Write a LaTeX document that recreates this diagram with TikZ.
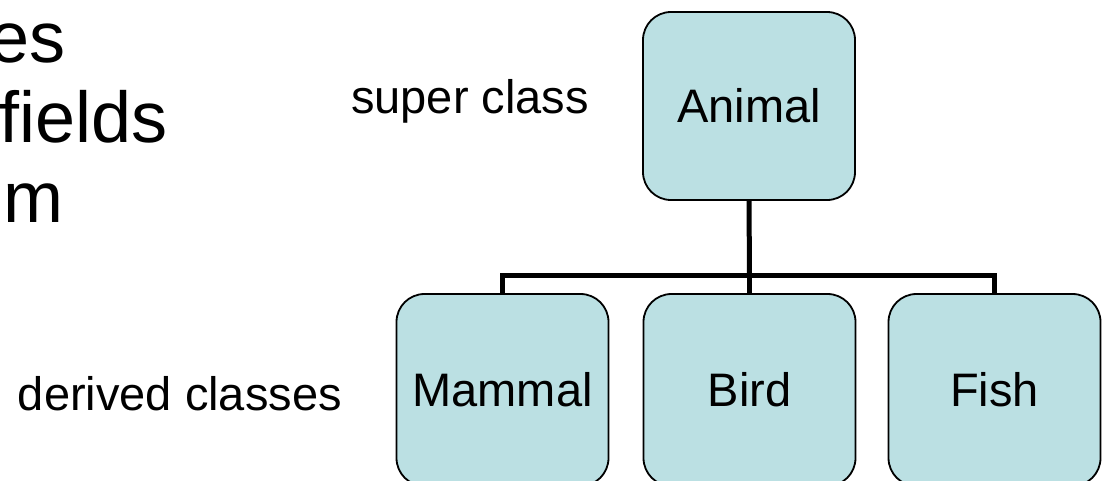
\documentclass[tikz,border=0pt]{standalone}
\usepackage{fontspec}
\setmainfont{Liberation Sans}
\definecolor{boxfill}{RGB}{187,224,227}
\begin{document}
\begin{tikzpicture}[x=1pt,y=-1pt,
  classbox/.style={draw=black,line width=1.8pt,fill=boxfill,rounded corners=28pt,
    minimum width=212pt,inner sep=0pt,font=\fontsize{47}{56}\selectfont},
  conn/.style={draw=black,line width=5pt},
  lbl/.style={inner sep=0pt,font=\fontsize{47}{56}\selectfont},
  big/.style={inner sep=0pt,font=\fontsize{72}{80}\selectfont,anchor=base east}]
\useasboundingbox (0,0) rectangle (1105,480);
% partially visible slide text on the left
\node[big] (t1) at (66,62) {es};
\node[big] (t2) at (168,142) {fields};
\node[big] (t3) at (64,222) {om};
% class boxes
\node[classbox,minimum height=188pt] (animal) at (749,106) {Animal};
\node[classbox,minimum height=192pt] (mammal) at (502.5,390) {Mammal};
\node[classbox,minimum height=192pt] (bird) at (749.5,390) {Bird};
\node[classbox,minimum height=192pt] (fish) at (994.5,390) {Fish};
% connectors
\coordinate (bar) at (749.5,275);
\draw[conn] (animal.south) -- (bar);
\draw[conn] (mammal.north) |- (bar) -| (fish.north);
\draw[conn] (bird.north) -- (bar);
% labels
\node[lbl,anchor=base west] (super) at (351,113) {super class};
\node[lbl,anchor=base east] (derived) at (342,410) {derived classes};
\end{tikzpicture}
\end{document}
